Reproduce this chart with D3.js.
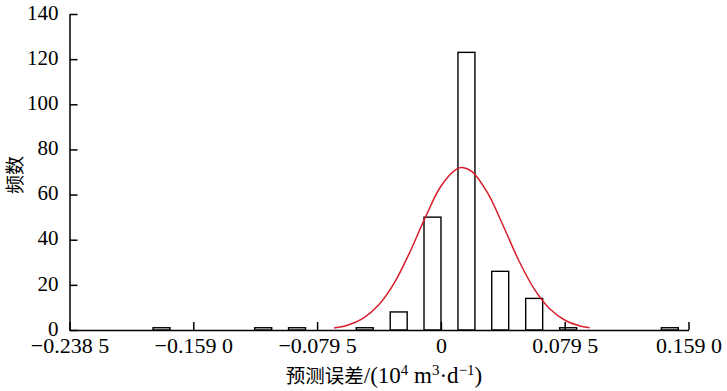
<!DOCTYPE html>
<html>
<head>
<meta charset="utf-8">
<script src="https://cdn.jsdelivr.net/npm/d3@7"></script>
<style>
  html, body { margin: 0; padding: 0; background: #fff; }
  svg { display: block; }
</style>
</head>
<body>
<svg id="chart" width="727" height="391"></svg>
<script>
// ---- data ----
const binCenters = [-0.1794, -0.1141, -0.0924, -0.0489, -0.0271, -0.0054, 0.0164, 0.0381, 0.0599, 0.0817, 0.1470];
const binCounts  = [1, 1, 1, 1, 8, 50, 123, 26, 14, 1, 1];

const fitX = [-0.0686, -0.06, -0.05, -0.04, -0.03, -0.02, -0.01, 0, 0.01, 0.0138, 0.02, 0.03, 0.04, 0.05, 0.06, 0.07, 0.08, 0.09, 0.0955];
const fitY = [0.9, 2.1, 5.2, 11.1, 20.8, 34.4, 49.9, 63.7, 71.3, 72, 70.2, 60.7, 46.2, 30.8, 18.1, 9.3, 4.2, 1.7, 1.0];

const xTickValues = [-0.2385, -0.159, -0.0795, 0, 0.0795, 0.159];
const xTickLabels = ["\u22120.238 5", "\u22120.159 0", "\u22120.079 5", "0", "0.079 5", "0.159 0"];
const yTickValues = [0, 20, 40, 60, 80, 100, 120, 140];

const yTitle = "频数";
const xTitleParts = [
  { t: "预测误差", kind: "cjk" },
  { t: "/(10", kind: "latin" },
  { t: "4", kind: "sup" },
  { t: " m", kind: "latin" },
  { t: "3", kind: "sup" },
  { t: "·d", kind: "latin" },
  { t: "\u22121", kind: "sup" },
  { t: ")", kind: "latin" }
];

// ---- layout / style ----
const barWidthValue = 0.0109;
const latinFont = "'Liberation Serif', 'Times New Roman', 'Noto Sans CJK SC', serif";
const cjkFont = "'Noto Sans CJK SC', 'Liberation Serif', sans-serif";

const svg = d3.select("#chart");

const x = d3.scaleLinear().domain([-0.2385, 0.159]).range([69.5, 688.5]);
const y = d3.scaleLinear().domain([0, 140]).range([330, 14]);

// bars
svg.append("g").selectAll("rect")
  .data(binCenters.map((c, i) => ({ c, n: binCounts[i] })))
  .join("rect")
  .attr("x", d => x(d.c - barWidthValue / 2))
  .attr("width", d => x(d.c + barWidthValue / 2) - x(d.c - barWidthValue / 2))
  .attr("y", d => y(d.n))
  .attr("height", d => y(0) - y(d.n))
  .attr("fill", "#fff")
  .attr("stroke", "#000")
  .attr("stroke-width", 1.4);

// fitted normal curve
const line = d3.line()
  .x(d => x(d[0]))
  .y(d => y(d[1]))
  .curve(d3.curveCatmullRom);
svg.append("path")
  .datum(fitX.map((v, i) => [v, fitY[i]]))
  .attr("d", line)
  .attr("fill", "none")
  .attr("stroke", "#d81e2a")
  .attr("stroke-width", 1.5);

// x axis
const xAxis = d3.axisBottom(x)
  .tickValues(xTickValues)
  .tickFormat((d, i) => xTickLabels[i])
  .tickSizeInner(-8)
  .tickSizeOuter(0)
  .tickPadding(7);
const gx = svg.append("g").attr("transform", `translate(0,${y(0)})`).call(xAxis);
gx.select(".domain").attr("stroke", "#000").attr("stroke-width", 1.5);
gx.selectAll(".tick line").attr("stroke", "#000").attr("stroke-width", 1.5);
gx.selectAll(".tick text")
  .attr("fill", "#000")
  .style("font-family", latinFont)
  .style("font-size", "22px");

// y axis
const yAxis = d3.axisLeft(y)
  .tickValues(yTickValues)
  .tickFormat(d3.format("d"))
  .tickSizeInner(-8)
  .tickSizeOuter(0)
  .tickPadding(11);
const gy = svg.append("g").attr("transform", `translate(${x(-0.2385)},0)`).call(yAxis);
gy.select(".domain").attr("stroke", "#000").attr("stroke-width", 1.5);
gy.selectAll(".tick line").attr("stroke", "#000").attr("stroke-width", 1.5);
gy.selectAll(".tick text")
  .attr("fill", "#000")
  .attr("dy", "0.25em")
  .style("font-family", latinFont)
  .style("font-size", "21px");

// y title
svg.append("text")
  .attr("transform", "translate(13,175) rotate(-90)")
  .attr("text-anchor", "middle")
  .attr("dominant-baseline", "central")
  .style("font-family", cjkFont)
  .style("font-size", "19px")
  .attr("fill", "#000")
  .text(yTitle);

// x title
const xt = svg.append("text")
  .attr("x", 384)
  .attr("y", 383)
  .attr("text-anchor", "middle")
  .style("font-family", latinFont)
  .style("font-size", "23px")
  .attr("fill", "#000");
xTitleParts.forEach(p => {
  const ts = xt.append("tspan").text(p.t);
  if (p.kind === "sup") {
    ts.style("font-size", "15px").attr("baseline-shift", "super");
  } else if (p.kind === "cjk") {
    ts.style("font-family", cjkFont).style("font-size", "19.5px");
  }
});
</script>
</body>
</html>
